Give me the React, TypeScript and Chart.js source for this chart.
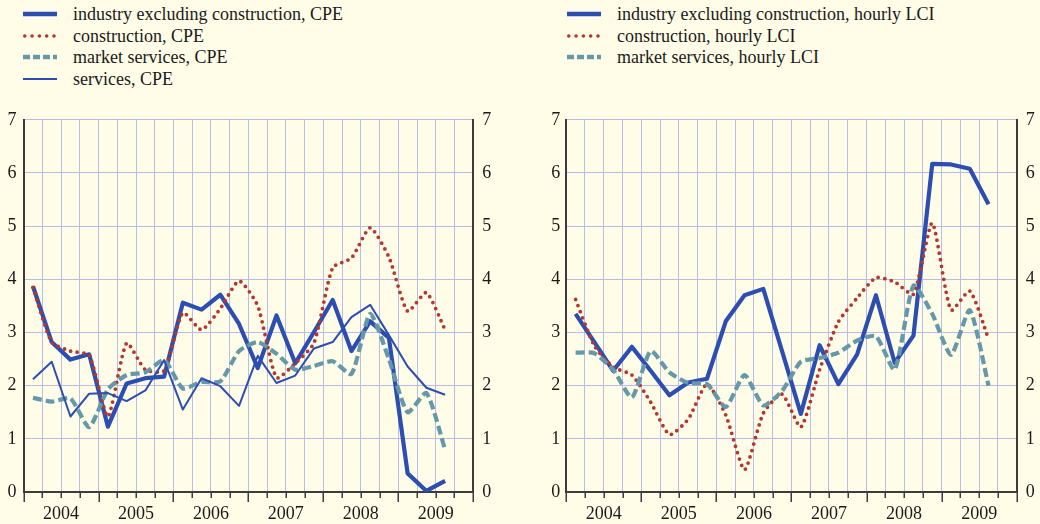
import React, { useEffect, useRef } from 'react';
import { Chart, registerables } from 'chart.js';

Chart.register(...registerables);

// ---------- data ----------
const quarters = [
  '2004Q1', '2004Q2', '2004Q3', '2004Q4',
  '2005Q1', '2005Q2', '2005Q3', '2005Q4',
  '2006Q1', '2006Q2', '2006Q3', '2006Q4',
  '2007Q1', '2007Q2', '2007Q3', '2007Q4',
  '2008Q1', '2008Q2', '2008Q3', '2008Q4',
  '2009Q1', '2009Q2', '2009Q3',
];
const years = ['2004', '2005', '2006', '2007', '2008', '2009'];
const yMin = 0;
const yMax = 7;

// left panel: CPE
const industryCPE = [3.87, 2.82, 2.49, 2.59, 1.23, 2.04, 2.14, 2.17, 3.56, 3.43, 3.71, 3.16, 2.33, 3.32, 2.42, 3.01, 3.61, 2.65, 3.21, 2.9, 0.35, 0.02, 0.21];
const constructionCPE = [3.85, 2.82, 2.65, 2.57, 1.42, 2.8, 2.3, 2.28, 3.37, 3.05, 3.45, 3.97, 3.5, 2.15, 2.42, 2.8, 4.22, 4.4, 4.97, 4.42, 3.4, 3.75, 3.05];
const marketServicesCPE = [1.77, 1.7, 1.76, 1.22, 1.93, 2.2, 2.25, 2.48, 1.95, 2.07, 2.08, 2.65, 2.82, 2.6, 2.3, 2.37, 2.46, 2.22, 3.35, 2.5, 1.5, 1.86, 0.8];
const servicesCPE = [2.12, 2.45, 1.42, 1.85, 1.86, 1.71, 1.91, 2.48, 1.55, 2.14, 1.99, 1.62, 2.56, 2.05, 2.19, 2.7, 2.82, 3.29, 3.52, 2.95, 2.36, 1.96, 1.83];

// right panel: hourly LCI
const industryLCI = [3.35, 2.82, 2.28, 2.73, 2.28, 1.82, 2.06, 2.13, 3.21, 3.7, 3.82, 2.65, 1.47, 2.76, 2.03, 2.59, 3.7, 2.43, 2.94, 6.17, 6.16, 6.08, 5.41];
const constructionLCI = [3.62, 2.75, 2.35, 2.2, 1.69, 1.08, 1.37, 2.03, 1.45, 0.42, 1.48, 1.84, 1.22, 2.3, 3.2, 3.65, 4.03, 3.95, 3.72, 5.06, 3.42, 3.78, 2.88];
const marketServicesLCI = [2.62, 2.61, 2.3, 1.78, 2.65, 2.25, 2.05, 2.03, 1.6, 2.2, 1.63, 1.9, 2.45, 2.52, 2.62, 2.85, 2.93, 2.3, 3.88, 3.35, 2.58, 3.42, 2.0];

// ---------- styles ----------
const BG = '#fffde8';
const GRID = '#b8bce9';
const AXIS = '#3c3c3c';
const TEXT = '#1a1a1a';
const BLUE = '#2c4eb2';
const RED = '#b3372d';
const TEAL = '#6599aa';
const FONT = "'Liberation Serif', 'Times New Roman', Times, serif";

type Style = 'thick' | 'dotted' | 'dashed' | 'thin';
type Series = { label: string; data: number[]; style: Style };

const leftSeries: Series[] = [
  { label: 'industry excluding construction, CPE', data: industryCPE, style: 'thick' },
  { label: 'construction, CPE', data: constructionCPE, style: 'dotted' },
  { label: 'market services, CPE', data: marketServicesCPE, style: 'dashed' },
  { label: 'services, CPE', data: servicesCPE, style: 'thin' },
];
const rightSeries: Series[] = [
  { label: 'industry excluding construction, hourly LCI', data: industryLCI, style: 'thick' },
  { label: 'construction, hourly LCI', data: constructionLCI, style: 'dotted' },
  { label: 'market services, hourly LCI', data: marketServicesLCI, style: 'dashed' },
];

const slots = years.length * 4;

function makeDataset(s: Series, idx: number, n: number) {
  const data = s.data.map((v, i) => ({ x: i + 0.5, y: v }));
  const base: any = {
    label: s.label,
    data,
    pointRadius: 0,
    fill: false,
    order: n - idx,
    borderJoinStyle: 'round',
  };
  if (s.style === 'thick') return { ...base, borderColor: BLUE, borderWidth: 4.2, tension: 0 };
  if (s.style === 'thin') return { ...base, borderColor: BLUE, borderWidth: 2, tension: 0 };
  if (s.style === 'dashed') return { ...base, borderColor: TEAL, borderWidth: 4.2, borderDash: [9, 4], tension: 0.2 };
  return { ...base, borderColor: RED, borderWidth: 3.8, borderDash: [0, 6.6], borderCapStyle: 'round', tension: 0.2 };
}

const tickPlugin = {
  id: 'quarterTicks',
  afterDraw(chart: any) {
    const xs = chart.scales.x;
    const bottom = chart.chartArea.bottom;
    const ctx = chart.ctx;
    ctx.save();
    ctx.strokeStyle = AXIS;
    ctx.lineWidth = 1.5;
    for (let i = 0; i <= slots; i++) {
      const px = Math.round(xs.getPixelForValue(i)) + 0.25;
      const len = i % 4 === 0 ? 10 : 6;
      ctx.beginPath();
      ctx.moveTo(px, bottom);
      ctx.lineTo(px, bottom + len);
      ctx.stroke();
    }
    ctx.restore();
  },
};

function Panel(props: { series: Series[]; leftW: number; rightW: number; leftPad: number; rightPad: number }) {
  const ref = useRef<HTMLCanvasElement>(null);
  useEffect(() => {
    if (!ref.current) return;
    const n = props.series.length;
    const chart = new Chart(ref.current, {
      type: 'line',
      data: { datasets: props.series.map((s, i) => makeDataset(s, i, n)) as any },
      plugins: [tickPlugin],
      options: {
        animation: false,
        responsive: false,
        layout: { padding: { top: 15, left: 0, right: 0, bottom: 0 } },
        plugins: { legend: { display: false }, tooltip: { enabled: false } },
        scales: {
          x: {
            type: 'linear',
            min: 0,
            max: slots,
            afterBuildTicks: (scale: any) => {
              scale.ticks = Array.from({ length: slots + 1 }, (_, i) => ({ value: i }));
            },
            afterFit: (scale: any) => { scale.height = 32; },
            ticks: {
              autoSkip: false,
              maxRotation: 0,
              padding: 11,
              color: TEXT,
              font: { family: FONT, size: 18 },
              callback: (v: any) => (Number(v) % 4 === 2 ? years[(Number(v) - 2) / 4] : ''),
            },
            grid: { color: GRID, lineWidth: 1, drawTicks: false },
            border: { color: AXIS, width: 2 },
          },
          y: {
            type: 'linear',
            position: 'left',
            min: yMin,
            max: yMax,
            afterFit: (scale: any) => { scale.width = props.leftW; },
            ticks: { stepSize: 1, padding: props.leftPad, color: TEXT, font: { family: FONT, size: 18 } },
            grid: { color: GRID, lineWidth: 1, drawTicks: false },
            border: { color: AXIS, width: 2 },
          },
          y2: {
            type: 'linear',
            position: 'right',
            min: yMin,
            max: yMax,
            afterFit: (scale: any) => { scale.width = props.rightW; },
            ticks: { stepSize: 1, padding: props.rightPad, color: TEXT, font: { family: FONT, size: 18 } },
            grid: { display: false, drawTicks: false },
            border: { display: true, color: AXIS, width: 2 },
          },
        },
      } as any,
    });
    return () => chart.destroy();
  }, []);
  return <canvas ref={ref} width={520} height={424} style={{ display: 'block' }} />;
}

function Sample({ style }: { style: Style }) {
  let line;
  if (style === 'thick') line = <line x1={0} x2={34} y1={6} y2={6} stroke={BLUE} strokeWidth={4.5} />;
  else if (style === 'thin') line = <line x1={0} x2={34} y1={6} y2={6} stroke={BLUE} strokeWidth={2} />;
  else if (style === 'dashed') line = <line x1={0} x2={34} y1={6} y2={6} stroke={TEAL} strokeWidth={4.5} strokeDasharray="7 3" />;
  else line = <line x1={1.8} x2={34} y1={6} y2={6} stroke={RED} strokeWidth={3.6} strokeLinecap="round" strokeDasharray="0 7.3" />;
  return <svg width={34} height={12} style={{ display: 'block' }}>{line}</svg>;
}

function Legend({ series, left }: { series: Series[]; left: number }) {
  return (
    <>
      {series.map((s, i) => (
        <div
          key={s.label}
          style={{
            position: 'absolute',
            left,
            top: 14 + i * 21.6 - 11,
            height: 22,
            display: 'flex',
            alignItems: 'center',
            whiteSpace: 'nowrap',
            fontFamily: FONT,
            fontSize: 18,
            color: TEXT,
          }}
        >
          <Sample style={s.style} />
          <span style={{ marginLeft: 16, lineHeight: '22px' }}>{s.label}</span>
        </div>
      ))}
    </>
  );
}

export default function App() {
  return (
    <div style={{ position: 'fixed', left: 0, top: 0, width: 1040, height: 524, background: BG, overflow: 'hidden' }}>
      <Legend series={leftSeries} left={23} />
      <Legend series={rightSeries} left={567} />
      <div style={{ position: 'absolute', left: 0, top: 100 }}>
        <Panel series={leftSeries} leftW={23.6} rightW={46.8} leftPad={7} rightPad={9} />
      </div>
      <div style={{ position: 'absolute', left: 520, top: 100 }}>
        <Panel series={rightSeries} leftW={46.2} rightW={23.3} leftPad={6} rightPad={9} />
      </div>
    </div>
  );
}
